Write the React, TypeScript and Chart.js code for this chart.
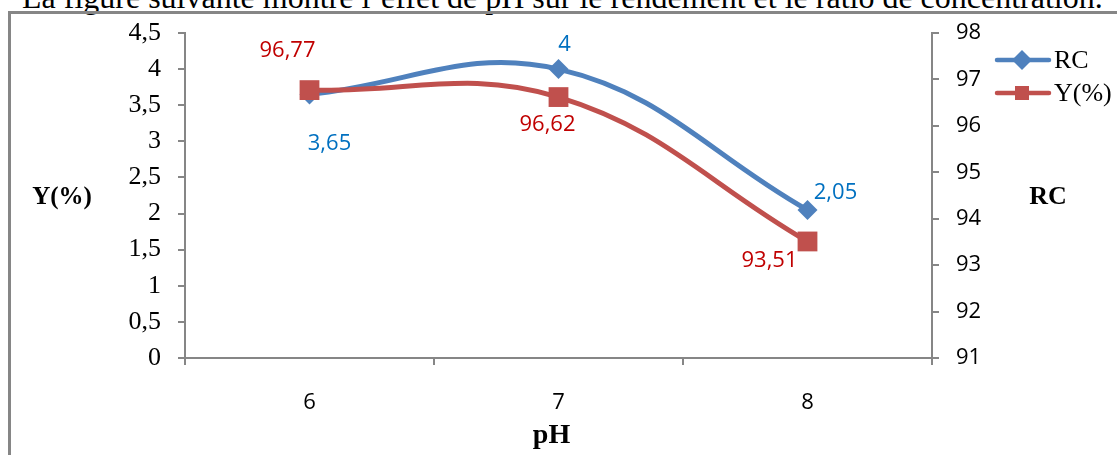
import React, { useEffect, useRef } from 'react';
import { Chart, registerables } from 'chart.js';

Chart.register(...registerables);

// ---- data ----
const categories = ['6', '7', '8'];
const rcValues = [3.65, 4, 2.05];
const yieldValues = [96.77, 96.62, 93.51];
const leftAxis = { min: 0, max: 4.5, step: 0.5 };
const rightAxis = { min: 91, max: 98, step: 1 };
const headerText = 'La figure suivante montre l’effet de pH sur le rendement et le ratio de concentration.';

// label placement offsets (px) relative to each point
const rcLabelOffsets = [[20, 49], [6, -24], [28, -17]];
const yieldLabelOffsets = [[-22, -39], [-11, 28], [-38, 19]];

const BLUE = '#4F81BD';
const RED = '#C0504D';
const BLUE_TXT = '#0070C0';
const RED_TXT = '#C00000';
const AXIS = '#868686';
const SANS = '"Open Sans", "Liberation Sans", sans-serif';
const SERIF = '"Liberation Serif", "Times New Roman", serif';

const fmt = (v: number) => String(v).replace('.', ',');

function drawDiamond(ctx: CanvasRenderingContext2D, x: number, y: number, r: number, color: string) {
  ctx.beginPath();
  ctx.moveTo(x, y - r);
  ctx.lineTo(x + r, y);
  ctx.lineTo(x, y + r);
  ctx.lineTo(x - r, y);
  ctx.closePath();
  ctx.fillStyle = color;
  ctx.fill();
}
function drawSquare(ctx: CanvasRenderingContext2D, x: number, y: number, half: number, color: string) {
  ctx.fillStyle = color;
  ctx.fillRect(x - half, y - half, half * 2, half * 2);
}

const overlayPlugin = {
  id: 'overlay',
  afterDatasetsDraw(chart: any) {
    const ctx: CanvasRenderingContext2D = chart.ctx;
    ctx.save();
    // data labels
    ctx.font = `22px ${SANS}`;
    ctx.textAlign = 'center';
    ctx.textBaseline = 'middle';
    chart.data.datasets.forEach((ds: any, i: number) => {
      const meta = chart.getDatasetMeta(i);
      meta.data.forEach((pt: any, j: number) => {
        const off = ds.labelOffsets[j];
        ctx.fillStyle = ds.labelColor;
        ctx.fillText(fmt(ds.data[j]), pt.x + off[0], pt.y + off[1]);
      });
    });
    // axis titles
    const area = chart.chartArea;
    ctx.fillStyle = '#000';
    ctx.font = `bold 25px ${SERIF}`;
    ctx.fillText('Y(%)', 62, (area.top + area.bottom) / 2 + 2);
    ctx.font = `bold 26px ${SERIF}`;
    ctx.fillText('RC', 1048, (area.top + area.bottom) / 2 + 2);
    ctx.font = `bold 28px ${SERIF}`;
    ctx.fillText('pH', (area.left + area.right) / 2 - 7, 436);
    // legend
    const items = [
      { label: chart.data.datasets[0].label, color: BLUE, shape: 'diamond', y: 60 },
      { label: chart.data.datasets[1].label, color: RED, shape: 'square', y: 93 },
    ];
    items.forEach((it) => {
      ctx.strokeStyle = it.color;
      ctx.lineWidth = 4.5;
      ctx.lineCap = 'round';
      ctx.beginPath();
      ctx.moveTo(997, it.y);
      ctx.lineTo(1049, it.y);
      ctx.stroke();
      if (it.shape === 'diamond') drawDiamond(ctx, 1022, it.y, 10, it.color);
      else drawSquare(ctx, 1022, it.y, 7, it.color);
      ctx.fillStyle = '#000';
      ctx.font = `26px ${SERIF}`;
      ctx.textAlign = 'left';
      ctx.textBaseline = 'middle';
      ctx.fillText(it.label, 1054, it.y + 1);
    });
    ctx.restore();
  },
};

export default function App() {
  const canvasRef = useRef<HTMLCanvasElement | null>(null);

  useEffect(() => {
    if (!canvasRef.current) return;
    const chart = new Chart(canvasRef.current, {
      type: 'line',
      data: {
        labels: categories,
        datasets: [
          {
            label: 'RC',
            data: rcValues,
            yAxisID: 'y',
            borderColor: BLUE,
            backgroundColor: BLUE,
            borderWidth: 5,
            pointStyle: 'rectRot',
            pointRadius: 10,
            pointBorderWidth: 0,
            tension: 0.4,
            order: 1,
            labelOffsets: rcLabelOffsets,
            labelColor: BLUE_TXT,
          } as any,
          {
            label: 'Y(%)',
            data: yieldValues,
            yAxisID: 'y1',
            borderColor: RED,
            backgroundColor: RED,
            borderWidth: 5,
            pointStyle: 'rect',
            pointRadius: 14,
            pointBorderWidth: 0,
            tension: 0.4,
            order: 0,
            labelOffsets: yieldLabelOffsets,
            labelColor: RED_TXT,
          } as any,
        ],
      },
      options: {
        animation: false,
        responsive: false,
        maintainAspectRatio: false,
        layout: { padding: { top: 33, left: 0, right: 0, bottom: 0 } },
        plugins: { legend: { display: false }, tooltip: { enabled: false }, title: { display: false } },
        scales: {
          x: {
            type: 'category',
            offset: true,
            grid: { offset: true, drawOnChartArea: false, drawTicks: true, tickLength: 7, color: AXIS, lineWidth: 2 },
            border: { color: AXIS, width: 2 },
            ticks: { color: '#000', font: { family: SANS, size: 22 }, padding: 25, maxRotation: 0 },
            afterFit: (s: any) => { s.height = 97; },
          },
          y: {
            position: 'left',
            min: leftAxis.min,
            max: leftAxis.max,
            ticks: {
              stepSize: leftAxis.step,
              color: '#000',
              font: { family: SERIF, size: 26 },
              padding: 17,
              callback: (v: any) => fmt(Number(v)),
            },
            grid: { drawOnChartArea: false, drawTicks: true, tickLength: 7, color: AXIS, lineWidth: 2 },
            border: { color: AXIS, width: 2 },
            afterFit: (s: any) => { s.width = 185; },
          },
          y1: {
            position: 'right',
            min: rightAxis.min,
            max: rightAxis.max,
            ticks: {
              stepSize: rightAxis.step,
              color: '#000',
              font: { family: SANS, size: 22 },
              padding: 17,
              callback: (v: any) => fmt(Number(v)),
            },
            grid: { drawOnChartArea: false, drawTicks: true, tickLength: 7, color: AXIS, lineWidth: 2 },
            border: { color: AXIS, width: 2 },
            afterFit: (s: any) => { s.width = 185; },
          },
        },
      },
      plugins: [overlayPlugin],
    });
    return () => chart.destroy();
  }, []);

  return (
    <div style={{ position: 'absolute', left: 0, top: 0, width: 1117, height: 455, overflow: 'hidden', background: '#fff' }}>
      <div
        style={{
          position: 'absolute',
          left: 22,
          top: -19,
          fontFamily: SERIF,
          fontSize: 32,
          lineHeight: '32px',
          whiteSpace: 'nowrap',
          color: '#000',
        }}
      >
        {headerText}
      </div>
      <div
        style={{
          position: 'absolute',
          left: 8,
          top: 11,
          width: 1300,
          height: 600,
          borderLeft: `3px solid ${AXIS}`,
          borderTop: `3px solid ${AXIS}`,
          boxSizing: 'border-box',
        }}
      />
      <canvas ref={canvasRef} width={1117} height={455} style={{ position: 'absolute', left: 0, top: 0 }} />
    </div>
  );
}
